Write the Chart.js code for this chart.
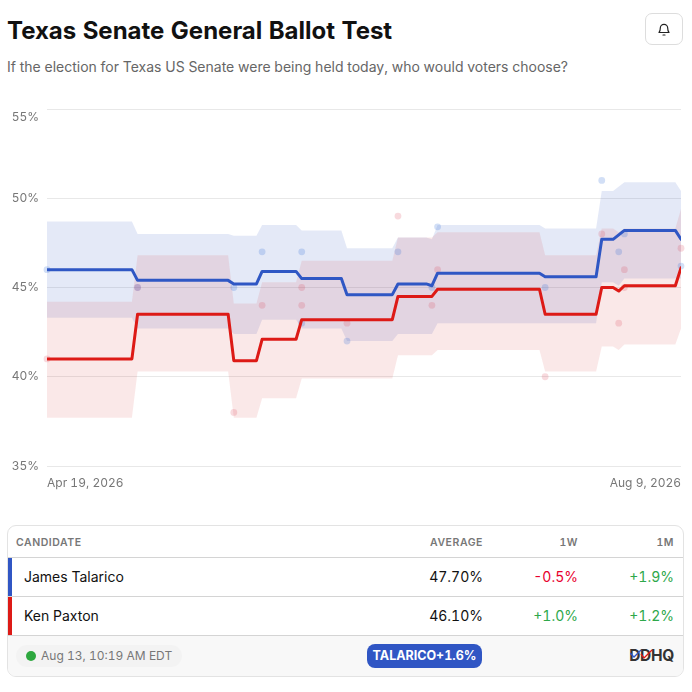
<!DOCTYPE html>
<html><head><meta charset="utf-8">
<script src="https://cdn.jsdelivr.net/npm/chart.js@4"></script>
<style>
html,body{margin:0;padding:0;background:#fff}
body{width:692px;height:692px;position:relative;overflow:hidden;font-family:Inter,sans-serif;color:#111;font-variant-numeric:tabular-nums}
h1{position:absolute;left:7px;top:16px;margin:0;font-size:24px;line-height:30px;font-weight:700;white-space:nowrap}
.sub{position:absolute;left:7px;top:57.500px;font-size:14px;line-height:18px;color:#666;white-space:nowrap}
.bell{position:absolute;left:645px;top:13px;width:36px;height:30px;border:1px solid #ddd;border-radius:7px;display:flex;align-items:center;justify-content:center}
#wrap{position:absolute;left:0;top:100px;width:692px;height:400px}
.tbl{position:absolute;left:7px;top:525px;width:675px;height:150px;border:1px solid #e3e3e3;border-radius:9px;overflow:hidden}
.row{position:absolute;left:0;right:0;border-bottom:1px solid #d4d4d4}
.cell{position:absolute;white-space:nowrap}
.hd .cell{top:10px;font-size:10.5px;line-height:13px;font-weight:600;color:#777;letter-spacing:.55px}
.dt .cell{top:10px;font-size:14px;line-height:18px}
.bar{position:absolute;left:0;top:0;bottom:0;width:4px}
.r1{right:200px}.r2{right:105px}.r3{right:9px}
.foot{position:absolute;left:0;right:0;top:110px;bottom:0;background:#f8f8f8}
.pill{position:absolute;left:8px;top:9px;width:166px;height:22px;border-radius:11px;background:#f3f3f3;font-size:12px;line-height:22px;color:#777}
.pill i{position:absolute;left:10px;top:6px;width:10px;height:10px;border-radius:50%;background:#2ea83f}
.pill span{position:absolute;left:25px;white-space:nowrap}
.badge{position:absolute;left:359px;top:8px;width:115px;height:24px;border-radius:8px;background:#3056c4;color:#fff;font-size:12.5px;font-weight:700;line-height:24px;text-align:center;white-space:nowrap}
.logo{position:absolute;right:9px;top:10px;font-size:15.500px;line-height:20px;font-weight:700;color:#333;letter-spacing:-.3px}
.logo svg{position:absolute;left:1px;top:3px}
</style></head><body>
<h1>Texas Senate General Ballot Test</h1>
<div class="sub">If the election for Texas US Senate were being held today, who would voters choose?</div>
<div class="bell"><svg width="16" height="16" viewBox="0 0 16 16" fill="none" stroke="#222" stroke-width="1.2" stroke-linejoin="round" stroke-linecap="round"><path d="M3 11.500c1-1 1.300-2 1.300-4.500a3.700 3.700 0 0 1 7.400 0c0 2.500.3 3.500 1.300 4.500z"/><path d="M7 14h2"/></svg></div>
<div id="wrap"><canvas id="c"></canvas></div>
<div class="tbl">
 <div class="row hd" style="top:0;height:31px">
  <div class="cell" style="left:8px">CANDIDATE</div><div class="cell r1">AVERAGE</div><div class="cell r2">1W</div><div class="cell r3">1M</div>
 </div>
 <div class="row dt" style="top:32px;height:38px"><div class="bar" style="background:#3056c4"></div>
  <div class="cell" style="left:16px">James Talarico</div><div class="cell r1">47.70%</div><div class="cell r2" style="color:#e8002d">-0.5%</div><div class="cell r3" style="color:#2ea84a">+1.9%</div>
 </div>
 <div class="row dt" style="top:71px;height:38px"><div class="bar" style="background:#dd1a16"></div>
  <div class="cell" style="left:16px">Ken Paxton</div><div class="cell r1">46.10%</div><div class="cell r2" style="color:#2ea84a">+1.0%</div><div class="cell r3" style="color:#2ea84a">+1.2%</div>
 </div>
 <div class="foot">
  <div class="pill"><i></i><span>Aug 13, 10:19 AM EDT</span></div>
  <div class="badge">TALARICO+1.6%</div>
  <div class="logo">DDHQ<svg width="24" height="11" viewBox="0 0 24 11" fill="none" stroke-width="1.3"><path d="M0 4l4 4 7-7" stroke="#3056c4"/><path d="M11 5l3 4 8-8" stroke="#dd1a16"/></svg></div>
 </div>
</div>
<script>
const xTickLabels = ['Apr 19, 2026', 'Aug 9, 2026'];
const xTickDays = [0, 112];
const yTicks = [35, 40, 45, 50, 55];

const blueLineDays = [0,15,16,32,33,37,38,44,45,52,53,61,62,67,68,69,87,88,97,98,100,102,111,112];
const blueLineVals = [46,46,45.4,45.4,45.2,45.2,45.9,45.9,45.5,45.5,44.6,44.6,45.2,45.2,45.1,45.8,45.8,45.6,45.6,47.7,47.7,48.2,48.2,47.7];
const redLineDays = [0,15,16,32,33,37,38,44,45,61,62,68,69,87,88,97,98,100,101,102,111,112];
const redLineVals = [41,41,43.5,43.5,40.9,40.9,42.1,42.1,43.2,43.2,44.5,44.5,44.9,44.9,43.5,43.5,45,45,44.8,45.1,45.1,46.1];

const blueUpperDays = [0,15,16,32,33,37,38,44,45,52,53,61,62,67,68,69,87,88,97,98,100,102,111,112];
const blueUpperVals = [48.7,48.7,48,48,47.9,47.9,48.5,48.5,48.2,48.2,47.2,47.2,47.8,47.8,47.7,48.5,48.5,48.3,48.3,50.4,50.4,50.9,50.9,50.4];
const blueLowerDays = [0,15,16,32,33,37,38,44,45,52,53,61,62,68,69,87,88,97,98,100,101,102,111,112];
const blueLowerVals = [43.3,43.3,42.7,42.7,42.4,42.4,43.2,43.2,42.7,42.7,42,42,42.4,42.4,43,43,43,43,45.3,45.3,45.1,45.5,45.5,45.5];
const redBandDays = [0,15,16,32,33,37,38,44,45,61,62,68,69,87,88,97,98,100,101,102,111,112];
const redUpperVals = [44.2,44.2,46.8,46.8,44.1,44.1,45.3,45.3,46.5,46.5,47.8,47.8,48.1,48.1,46.8,46.8,48.3,48.3,48.1,48.3,48.3,49.4];
const redLowerVals = [37.7,37.7,40.3,40.3,37.7,37.7,38.8,38.8,39.9,39.9,41.2,41.2,41.5,41.5,40.3,40.3,41.7,41.7,41.5,41.8,41.8,42.7];

const bluePollDays = [0,16,33,38,45,45,53,62,68,69,88,98,101,102,112];
const bluePollVals = [46,45,45,47,47,43,42,47,45,48.4,45,51,47,48,46.2];
const redPollDays = [0,16,33,38,45,45,53,62,68,69,88,98,101,102,102,112];
const redPollVals = [41,45,38,44,45,44,43,49,44,46,40,48,43,46,45,47.2];

const pts = (d, v) => d.map((x, i) => ({x, y: v[i]}));
const band = (label, data, color, fill, order) => ({type:'line', label, data, borderWidth:0, pointRadius:0, tension:0,
  backgroundColor:color, borderColor:'transparent', fill, order});
const line = (label, data, color, order) => ({type:'line', label, data, borderColor:color, borderWidth:3, pointRadius:0, tension:0,
  borderJoinStyle:'round', borderCapStyle:'round', fill:false, order, clip:{left:0,right:0,top:8,bottom:8}});
const dots = (label, data, color, order) => ({type:'scatter', label, data, backgroundColor:color, borderWidth:0, pointRadius:3.4, pointHoverRadius:3.4, order, clip:false});

new Chart(document.getElementById('c'), {
  data: {datasets: [
    line('James Talarico', pts(blueLineDays, blueLineVals), '#2f57c4', 1),
    line('Ken Paxton', pts(redLineDays, redLineVals), '#dd1a16', 2),
    dots('Talarico polls', pts(bluePollDays, bluePollVals), 'rgba(50,110,215,.22)', 3),
    dots('Paxton polls', pts(redPollDays, redPollVals), 'rgba(215,50,70,.18)', 4),
    band('Paxton low', pts(redBandDays, redLowerVals), 'rgba(0,0,0,0)', false, 5),
    band('Paxton high', pts(redBandDays, redUpperVals), 'rgba(214,50,50,.115)', '-1', 5),
    band('Talarico low', pts(blueLowerDays, blueLowerVals), 'rgba(0,0,0,0)', false, 6),
    band('Talarico high', pts(blueUpperDays, blueUpperVals), 'rgba(48,86,196,.13)', '-1', 6)
  ]},
  options: {
    responsive:true, maintainAspectRatio:false, animation:false,
    layout:{padding:{top:9,right:11,left:0,bottom:0}},
    plugins:{legend:{display:false},tooltip:{enabled:false}},
    scales:{
      x:{type:'linear', min:xTickDays[0], max:xTickDays[1],
        grid:{display:false}, border:{display:false},
        afterBuildTicks:s=>{s.ticks=xTickDays.map(value=>({value}))},
        afterFit:s=>{s.height=34;s.paddingLeft=0;s.paddingRight=0},
        ticks:{align:'inner', autoSkip:false, maxRotation:0, padding:2, color:'#777', font:{family:'Inter',size:12},
          callback:(v)=>xTickLabels[xTickDays.indexOf(v)]}},
      y:{type:'linear', min:35, max:55,
        grid:{color:'#e8e8e8', lineWidth:1, drawTicks:false}, border:{display:false},
        afterBuildTicks:s=>{s.ticks=yTicks.map(value=>({value}))},
        afterFit:s=>{s.width=47;s.paddingTop=0;s.paddingBottom=0},
        ticks:{padding:8, color:'#777', font:{family:'Inter',size:12,lineHeight:1.35},
          callback:v=>v===55?['',v+'%']:v+'%'}}
    }
  }
});
</script>
</body></html>
